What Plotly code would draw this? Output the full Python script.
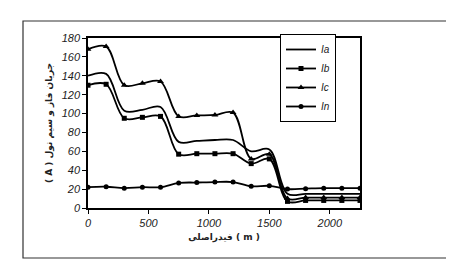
import plotly.graph_objects as go

distance_m = [0, 150, 300, 450, 600, 750, 900, 1050, 1200, 1350, 1500, 1650, 1800, 1950, 2100, 2250]
ia = [140, 142, 103, 104, 107, 70, 71, 72, 72, 60, 62, 15, 15, 15, 15, 15]
ib = [130, 131, 95, 96, 97, 57, 57.5, 57.5, 57.5, 47, 52, 7, 8, 8, 8, 8]
ic = [168, 171, 130, 132, 134, 97, 98, 98.5, 101, 52, 57, 10, 11, 11, 11, 11]
i_n = [22, 22.5, 21, 22, 22, 26.5, 27, 27.5, 27.5, 23, 23.5, 20, 20.5, 21, 21, 21]

y_ticks = list(range(0, 181, 20))
x_ticks = [0, 500, 1000, 1500, 2000]

x_title = "فیدراصلی ( m )"
y_title = "( A ) جریان فاز و سیم نول"

fig = go.Figure()
line = dict(color="black", width=1.8, shape="spline", smoothing=1)
fig.add_trace(go.Scatter(x=distance_m, y=ia, name="Ia", mode="lines", line=line))
fig.add_trace(go.Scatter(x=distance_m, y=ib, name="Ib", mode="lines+markers", line=line,
                         marker=dict(symbol="square", size=5, color="black")))
fig.add_trace(go.Scatter(x=distance_m, y=ic, name="Ic", mode="lines+markers", line=line,
                         marker=dict(symbol="triangle-up", size=6, color="black")))
fig.add_trace(go.Scatter(x=distance_m, y=i_n, name="In", mode="lines+markers", line=line,
                         marker=dict(symbol="circle", size=5, color="black")))

tick_font = dict(family="Liberation Sans, Arial", size=11, color="#222", style="italic")

W, H = 454, 262
L, R, T, B = 80, 102, 30, 62
pw, ph = W - L - R, H - T - B

def px2paper(x, y):
    return (x - L) / pw, (H - B - y) / ph

x0, y0 = px2paper(15, 13)
x1, y1 = px2paper(440, 250)

fig.update_layout(
    width=W, height=H,
    margin=dict(l=L, r=R, t=T, b=B),
    paper_bgcolor="white", plot_bgcolor="white",
    showlegend=True,
    legend=dict(x=(272 - L) / pw, y=(H - B - 26) / ph, xanchor="left", yanchor="top",
                bordercolor="black", borderwidth=1, bgcolor="white",
                font=dict(family="Liberation Sans, Arial", size=10, color="#222", style="italic"),
                itemwidth=30, tracegroupgap=0),
    xaxis=dict(range=[0, 2250], tickvals=x_ticks, ticktext=[str(v) for v in x_ticks],
               showgrid=False, zeroline=False, showline=True, linecolor="black", linewidth=1.5,
               mirror=True, ticks="outside", ticklen=4, tickcolor="black", tickfont=tick_font,
               title=dict(text=x_title, font=dict(family="DejaVu Sans", size=9, color="#222", weight="bold"),
                          standoff=6)),
    yaxis=dict(range=[0, 180], tickvals=y_ticks, ticktext=[str(v) for v in y_ticks],
               showgrid=False, zeroline=False, showline=True, linecolor="black", linewidth=1.5,
               mirror=True, ticks="outside", ticklen=4, tickcolor="black", tickfont=tick_font,
               title=dict(text=y_title, font=dict(family="DejaVu Sans", size=9, color="#222", weight="bold"),
                          standoff=8)),
    shapes=[dict(type="rect", xref="paper", yref="paper", x0=x0, y0=y1, x1=x1, y1=y0,
                 line=dict(color="#333", width=1.2), layer="below")],
)

fig.write_html("out.html")
